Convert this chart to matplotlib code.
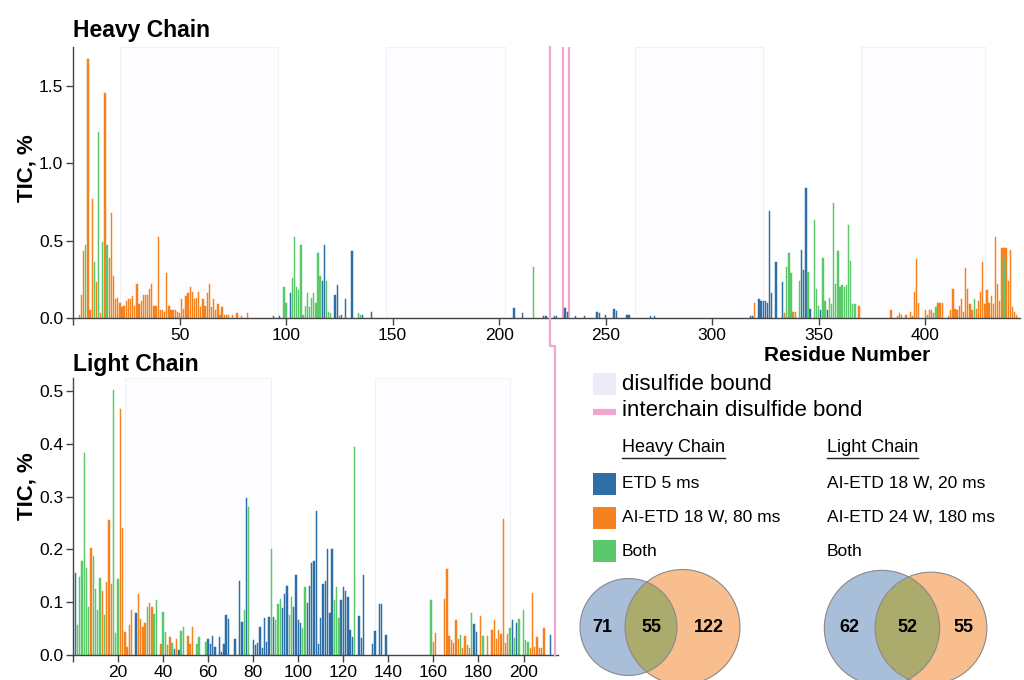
import matplotlib

matplotlib.use("Agg")
import matplotlib.pyplot as plt
from matplotlib import font_manager
from matplotlib.lines import Line2D
from matplotlib.patches import Circle, Rectangle

_names = {f.name for f in font_manager.fontManager.ttflist}
NARROW = "Liberation Sans Narrow" if "Liberation Sans Narrow" in _names else "Liberation Sans"
plt.rcParams["font.family"] = ["Liberation Sans", "DejaVu Sans"]

# ---- heavy chain: TIC % per residue, split by which method saw it ----
hc_etd_res = [94, 97, 102, 117, 118, 123, 124, 126, 128, 131, 136, 140, 207, 211, 221, 222,
              226, 227, 231, 232, 236, 240, 246, 247, 250, 254, 255, 260, 261, 271, 273, 318,
              319, 322, 323, 324, 325, 326, 327, 328, 330, 333, 342, 343, 344, 346, 351, 354]
hc_etd_tic = [0.01, 0.01, 0.16, 0.24, 0.47, 0.15, 0.21, 0.02, 0.12, 0.43, 0.02, 0.04, 0.065,
              0.035, 0.015, 0.012, 0.012, 0.01, 0.065, 0.04, 0.01, 0.015, 0.04, 0.03, 0.02,
              0.06, 0.045, 0.02, 0.02, 0.015, 0.015, 0.01, 0.015, 0.12, 0.11, 0.11, 0.11, 0.10,
              0.69, 0.16, 0.36, 0.23, 0.44, 0.31, 0.84, 0.06, 0.05, 0.05]

hc_ai_res = [3, 4, 5, 7, 8, 9, 11, 13, 15, 17, 18, 19, 20, 21, 22, 23, 24, 25, 26, 27, 28, 29,
             30, 31, 32, 33, 34, 35, 36, 37, 38, 39, 40, 41, 42, 43, 44, 45, 46, 47, 48, 49, 50,
             51, 52, 53, 54, 55, 56, 57, 58, 59, 60, 61, 62, 63, 64, 65, 66, 67, 68, 69, 70, 71,
             72, 73, 75, 77, 79, 82, 125, 320, 334, 338, 339, 369, 384, 387, 388, 389, 391, 393,
             394, 395, 396, 397, 400, 401, 402, 403, 404, 406, 407, 408, 411, 412, 413, 414, 415,
             416, 417, 418, 419, 420, 421, 422, 424, 425, 426, 427, 428, 429, 430, 431, 432, 433,
             434, 435, 436, 437, 438, 439, 440, 441, 442, 443]
hc_ai_tic = [0.02, 0.15, 0.43, 1.67, 0.05, 0.77, 0.23, 0.03, 1.45, 0.39, 0.68, 0.27, 0.12,
             0.13, 0.10, 0.07, 0.08, 0.11, 0.12, 0.12, 0.14, 0.08, 0.22, 0.09, 0.11, 0.15, 0.15,
             0.15, 0.19, 0.22, 0.08, 0.08, 0.52, 0.05, 0.05, 0.04, 0.29, 0.08, 0.05, 0.05, 0.05,
             0.04, 0.03, 0.12, 0.06, 0.14, 0.16, 0.20, 0.17, 0.12, 0.13, 0.17, 0.07, 0.12, 0.08,
             0.16, 0.22, 0.07, 0.12, 0.05, 0.09, 0.02, 0.07, 0.02, 0.02, 0.02, 0.02, 0.03, 0.01,
             0.03, 0.01, 0.095, 0.03, 0.04, 0.04, 0.08, 0.05, 0.015, 0.03, 0.02, 0.02, 0.04,
             0.015, 0.17, 0.38, 0.10, 0.05, 0.02, 0.05, 0.05, 0.03, 0.10, 0.10, 0.10, 0.01, 0.05,
             0.19, 0.06, 0.05, 0.08, 0.12, 0.04, 0.32, 0.19, 0.09, 0.05, 0.06, 0.11, 0.17, 0.36,
             0.09, 0.18, 0.10, 0.14, 0.09, 0.52, 0.22, 0.11, 0.45, 0.45, 0.45, 0.24, 0.44, 0.07,
             0.04, 0.02]

hc_both_res = [6, 10, 12, 14, 16, 99, 100, 103, 104, 105, 106, 107, 108, 109, 110, 111, 112,
               113, 114, 115, 116, 119, 120, 121, 134, 135, 216, 335, 336, 337, 341, 345, 348,
               349, 350, 352, 353, 355, 356, 357, 358, 359, 360, 361, 362, 363, 364, 365, 366,
               367, 405, 423, 437]
hc_both_tic = [0.47, 0.36, 1.20, 0.49, 0.47, 0.20, 0.10, 0.26, 0.52, 0.20, 0.18, 0.47, 0.02,
               0.08, 0.16, 0.07, 0.13, 0.16, 0.10, 0.42, 0.27, 0.24, 0.04, 0.03, 0.03, 0.02,
               0.33, 0.33, 0.42, 0.29, 0.24, 0.30, 0.63, 0.19, 0.08, 0.39, 0.11, 0.13, 0.09,
               0.74, 0.22, 0.43, 0.20, 0.21, 0.20, 0.21, 0.60, 0.37, 0.09, 0.09, 0.07, 0.12, 0.38]

# ---- light chain ----
lc_etd_res = [1, 28, 45, 47, 60, 61, 62, 63, 65, 66, 67, 68, 69, 72, 74, 75, 77, 80, 81, 82, 83,
              84, 85, 86, 87, 89, 93, 94, 95, 98, 99, 100, 101, 104, 105, 106, 107, 108, 109,
              110, 111, 112, 113, 114, 115, 119, 120, 121, 122, 123, 124, 127, 128, 129, 133,
              134, 136, 137, 139, 178, 179, 195, 197, 212]
lc_etd_tic = [0.156, 0.08, 0.011, 0.01, 0.03, 0.02, 0.036, 0.016, 0.035, 0.005, 0.02, 0.075,
              0.069, 0.03, 0.141, 0.063, 0.297, 0.028, 0.019, 0.023, 0.053, 0.013, 0.071, 0.025,
              0.072, 0.072, 0.09, 0.116, 0.13, 0.091, 0.151, 0.066, 0.061, 0.099, 0.13, 0.174,
              0.179, 0.272, 0.021, 0.07, 0.134, 0.14, 0.2, 0.08, 0.2, 0.104, 0.128, 0.121, 0.11,
              0.048, 0.035, 0.073, 0.033, 0.152, 0.021, 0.046, 0.096, 0.096, 0.038, 0.058, 0.044,
              0.066, 0.06, 0.038]

lc_ai_res = [8, 13, 15, 16, 17, 21, 22, 23, 24, 25, 26, 29, 30, 31, 32, 34, 35, 39, 42, 43, 46,
             51, 52, 53, 160, 161, 165, 166, 167, 168, 169, 170, 171, 173, 174, 175, 176, 181,
             184, 186, 187, 188, 189, 190, 191, 192, 193, 203, 204, 205, 206, 207, 208, 209]
lc_ai_tic = [0.203, 0.122, 0.138, 0.256, 0.134, 0.467, 0.24, 0.044, 0.016, 0.057, 0.086, 0.116,
             0.068, 0.053, 0.06, 0.098, 0.091, 0.02, 0.019, 0.035, 0.031, 0.036, 0.021, 0.053,
             0.025, 0.041, 0.107, 0.163, 0.036, 0.028, 0.023, 0.066, 0.031, 0.013, 0.036, 0.019,
             0.013, 0.073, 0.036, 0.047, 0.066, 0.031, 0.047, 0.04, 0.257, 0.022, 0.04, 0.013,
             0.118, 0.016, 0.035, 0.013, 0.013, 0.052]

lc_both_res = [2, 3, 4, 5, 6, 7, 9, 10, 11, 12, 14, 18, 19, 20, 33, 36, 37, 40, 41, 44, 48, 49,
               55, 56, 59, 76, 78, 88, 90, 91, 92, 96, 97, 102, 103, 116, 117, 118, 125, 159,
               172, 177, 182, 194, 196, 198, 200, 201, 202]
lc_both_tic = [0.057, 0.147, 0.178, 0.382, 0.164, 0.091, 0.187, 0.126, 0.086, 0.146, 0.075,
               0.503, 0.041, 0.144, 0.091, 0.078, 0.104, 0.082, 0.044, 0.023, 0.046, 0.054, 0.02,
               0.035, 0.025, 0.086, 0.28, 0.201, 0.066, 0.097, 0.107, 0.075, 0.109, 0.052, 0.129,
               0.104, 0.129, 0.07, 0.394, 0.104, 0.037, 0.08, 0.036, 0.052, 0.033, 0.069, 0.085,
               0.028, 0.025]

# intrachain disulfide pairs (shaded) and interchain cysteines (pink)
hc_ss_pairs = [(22, 96), (147, 203), (264, 324), (370, 428)]
lc_ss_pairs = [(23, 88), (134, 194)]
hc_inter_cys = [224, 230, 233]
lc_inter_cys = 214

hc_legend = ["ETD 5 ms", "AI-ETD 18 W, 80 ms", "Both"]
lc_legend = ["AI-ETD 18 W, 20 ms", "AI-ETD 24 W, 180 ms", "Both"]
hc_venn = (71, 55, 122)  # ETD only, shared, AI-ETD only
lc_venn = (62, 52, 55)

BLUE, ORANGE, GREEN = "#2f6fa7", "#f6821f", "#5cc86c"
PINK = "#f3a6cd"
SS_FILL, SS_EDGE = "#fdfdff", "#f0f0f5"
SPINE = "#444444"

fig = plt.figure(figsize=(10.24, 6.8), dpi=100)
W, H = 1024, 680


def px_axes(left, top, right, bottom):
    return fig.add_axes([left / W, 1 - bottom / H, (right - left) / W, (bottom - top) / H])


def style(ax):
    for s in ("top", "right"):
        ax.spines[s].set_visible(False)
    for s in ("left", "bottom"):
        ax.spines[s].set_color(SPINE)
        ax.spines[s].set_linewidth(1.0)
    ax.tick_params(direction="out", length=5, width=1, color=SPINE, labelsize=12.5, pad=2)


def draw_chain(ax, etd, ai, both, pairs):
    for a, b in pairs:
        ax.axvspan(a, b, facecolor=SS_FILL, edgecolor=SS_EDGE, lw=0.8, zorder=0)
    for (res, tic), col in [(ai, ORANGE), (etd, BLUE), (both, GREEN)]:
        ax.bar(res, tic, width=0.62, color=col, edgecolor=col, lw=0.35, zorder=2)


hc = px_axes(73, 47, 1020, 318)
draw_chain(hc, (hc_etd_res, hc_etd_tic), (hc_ai_res, hc_ai_tic), (hc_both_res, hc_both_tic),
           hc_ss_pairs)
for c in hc_inter_cys[1:]:
    hc.axvline(c, color=PINK, lw=1.6, zorder=1)
hc.set_xlim(0.5, 444.5)
hc.set_ylim(0, 1.75)
hc.set_xticks([0, 50, 100, 150, 200, 250, 300, 350, 400])
hc.set_xticklabels(["", "50", "100", "150", "200", "250", "300", "350", "400"])
hc.set_yticks([0, 0.5, 1.0, 1.5])
hc.set_yticklabels(["0.0", "0.5", "1.0", "1.5"])
style(hc)
hc.set_xlabel("Residue Number", fontsize=15, fontweight="bold", va="top")
hc.xaxis.set_label_coords(0.817, -0.105)

lc = px_axes(73, 378, 558, 655)
draw_chain(lc, (lc_etd_res, lc_etd_tic), (lc_ai_res, lc_ai_tic), (lc_both_res, lc_both_tic),
           lc_ss_pairs)
lc.set_xlim(0, 215.3)
lc.set_ylim(0, 0.525)
lc.set_xticks(range(0, 201, 20))
lc.set_xticklabels([""] + [str(v) for v in range(20, 201, 20)])
lc.set_yticks([0, 0.1, 0.2, 0.3, 0.4, 0.5])
lc.set_yticklabels(["0.0", "0.1", "0.2", "0.3", "0.4", "0.5"])
style(lc)

fig.text(73 / W, 1 - 37 / H, "Heavy Chain", fontsize=16.5, fontweight="bold", va="baseline")
fig.text(73 / W, 1 - 371 / H, "Light Chain", fontsize=16.5, fontweight="bold", va="baseline")
fig.text(27 / W, 1 - 168 / H, "TIC, %", fontsize=16, fontweight="bold", rotation=90,
         ha="center", va="center")
fig.text(27 / W, 1 - 486 / H, "TIC, %", fontsize=16, fontweight="bold", rotation=90,
         ha="center", va="center")

# overlay in pixel units for the connector, legend and Venn diagrams
ov = fig.add_axes([0, 0, 1, 1])
ov.set_xlim(0, W)
ov.set_ylim(H, 0)
ov.axis("off")
ov.patch.set_alpha(0)


def to_ov(ax, x, y):
    return ov.transData.inverted().transform(ax.transData.transform((x, y)))


x0, y0 = to_ov(hc, hc_inter_cys[0], hc.get_ylim()[1])
x1, y1 = to_ov(lc, lc_inter_cys, 0)
jog_y = 346
ov.add_line(Line2D([x0, x0, x1, x1], [y0, jog_y, jog_y, y1], color=PINK, lw=1.6, zorder=1))

# legend
NSIZE = 14.5 if NARROW != "Liberation Sans" else 12.5
NFAM = [NARROW, "DejaVu Sans"]
ov.add_patch(Rectangle((593, 373), 23, 22, facecolor="#ececf9", edgecolor="none"))
ov.text(622, 384, "disulfide bound", fontsize=16, va="center")
ov.plot([593, 616], [411.5, 411.5], color=PINK, lw=4.5, solid_capstyle="butt")
ov.text(622, 411, "interchain disulfide bond", fontsize=16, va="center")

renderer = fig.canvas.get_renderer()
for x, label in [(622, "Heavy Chain"), (827, "Light Chain")]:
    t = ov.text(x, 448, label, fontsize=NSIZE + 0.5, family=NFAM, va="center")
    bb = t.get_window_extent(renderer)
    (ux0, _), (ux1, _) = ov.transData.inverted().transform([[bb.x0, bb.y0], [bb.x1, bb.y0]])
    ov.plot([ux0, ux1], [458, 458], color="#222222", lw=1.0)

for i, (lab_h, lab_l, col) in enumerate(zip(hc_legend, lc_legend, [BLUE, ORANGE, GREEN])):
    yc = 484 + i * 33.5
    ov.add_patch(Rectangle((593, yc - 11), 23, 22, facecolor=col, edgecolor="none"))
    ov.text(622, yc, lab_h, fontsize=NSIZE, family=NFAM, va="center")
    ov.text(827, yc, lab_l, fontsize=NSIZE, family=NFAM, va="center")


def venn(counts, cx_a, cy, gap, scale):
    only_a, shared, only_b = counts
    ra = scale * (only_a + shared) ** 0.5
    rb = scale * (only_b + shared) ** 0.5
    cx_b = cx_a + gap
    a = Circle((cx_a, cy), ra, facecolor="#a9bed9", edgecolor="none", zorder=2)
    b = Circle((cx_b, cy), rb, facecolor="#f9be8d", edgecolor="none", zorder=2)
    ov.add_patch(a)
    ov.add_patch(b)
    inter = Circle((cx_b, cy), rb, facecolor="#abab6e", edgecolor="none", zorder=3)
    ov.add_patch(inter)
    inter.set_clip_path(a)
    for c in [(cx_a, ra), (cx_b, rb)]:
        ov.add_patch(Circle((c[0], cy), c[1], facecolor="none", edgecolor="#8a8a8a", lw=0.8,
                            zorder=4))
    la, ra_edge = cx_a - ra, cx_a + ra
    lb, rb_edge = cx_b - rb, cx_b + rb
    for xx, n in [((la + lb) / 2, only_a), ((lb + ra_edge) / 2, shared),
                  ((ra_edge + rb_edge) / 2, only_b)]:
        ov.text(xx, cy, str(n), fontsize=13, fontweight="bold", ha="center", va="center",
                family=NFAM, zorder=5)


venn(hc_venn, 628.5, 627, 54, 4.32)
venn(lc_venn, 882, 628, 49, 5.4)

fig.savefig("out.png", dpi=100)
